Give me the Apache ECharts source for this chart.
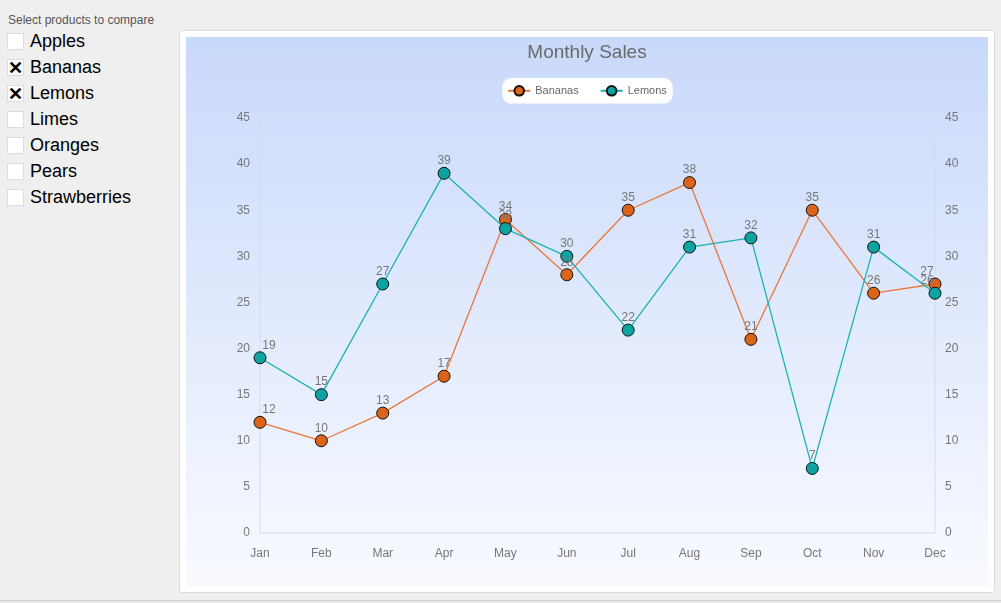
<!DOCTYPE html>
<html><head><meta charset="utf-8">
<script src="https://cdn.jsdelivr.net/npm/echarts@6/dist/echarts.min.js"></script>
<style>
html,body{margin:0;padding:0;background:#efefef;width:1001px;height:603px;overflow:hidden;font-family:"Liberation Sans",Arial,sans-serif;}
#side{position:absolute;left:0;top:0;width:175px;}
#side .hd{position:absolute;left:8px;top:13px;font-size:12px;color:#555;}
.row{position:absolute;left:7px;height:18px;}
.box{position:absolute;left:0;top:0;width:17px;height:17px;background:#fff;border:1px solid #ddd;box-sizing:border-box;font-size:18px;line-height:17px;text-align:center;font-weight:bold;color:#000;}
.lbl{position:absolute;left:23px;top:-2px;font-size:18px;color:#000;white-space:nowrap;}
#panel{position:absolute;left:179px;top:30px;width:816px;height:563px;background:#fff;border:1px solid #dcdcdc;border-radius:3px;box-sizing:border-box;}
#chart{position:absolute;left:186px;top:37px;width:802px;height:549px;}
#foot{position:absolute;left:0;top:600px;width:1001px;height:3px;border-top:1px solid #cfcfcf;background:#e8e8e8;}
</style></head>
<body>
<div id="side"><div class="hd">Select products to compare</div></div>
<div id="panel"></div>
<div id="chart"></div>
<div id="foot"></div>
<script>
const products = ["Apples","Bananas","Lemons","Limes","Oranges","Pears","Strawberries"];
const selected = ["Bananas","Lemons"];
const months = ["Jan","Feb","Mar","Apr","May","Jun","Jul","Aug","Sep","Oct","Nov","Dec"];
const bananas = [12,10,13,17,34,28,35,38,21,35,26,27];
const lemons = [19,15,27,39,33,30,22,31,32,7,31,26];
const yTicks = {min:0,max:45,interval:5};

const side = document.getElementById('side');
products.forEach((p,i)=>{
  const r = document.createElement('div');
  r.className='row'; r.style.top=(33+i*26)+'px';
  r.innerHTML='<div class="box">'+(selected.includes(p)?'&#x2715;':'')+'</div><div class="lbl">'+p+'</div>';
  side.appendChild(r);
});

// keep edge labels inside the plot (as the original renderer does)
function withEdgeLabels(arr){
  return arr.map((v,i)=>{
    if(i===0) return {value:v,label:{offset:[9,0]}};
    if(i===arr.length-1) return {value:v,label:{offset:[-8,0]}};
    return v;
  });
}

const chart = echarts.init(document.getElementById('chart'));
const labelStyle = {show:true,position:'top',distance:0,color:'#777',fontSize:12,fontFamily:'Liberation Sans'};
const yAxisBase = {type:'value',min:yTicks.min,max:yTicks.max,interval:yTicks.interval,
  axisLine:{show:false},axisTick:{show:false},splitLine:{show:false},
  axisLabel:{color:'#777',fontSize:12,fontFamily:'Liberation Sans',margin:10}};
chart.setOption({
  backgroundColor:{type:'linear',x:0,y:0,x2:0,y2:1,colorStops:[{offset:0,color:'#c9d9fb'},{offset:1,color:'#f8faff'}]},
  title:{text:'Monthly Sales',left:'center',top:1,textStyle:{color:'#6a6a6a',fontSize:19,fontWeight:'normal',fontFamily:'Liberation Sans'}},
  legend:{top:41,left:'center',backgroundColor:'#fff',borderRadius:9,padding:[7,6,7,5],itemGap:21,itemWidth:22,itemHeight:12,
    textStyle:{color:'#666',fontSize:11,fontFamily:'Liberation Sans'},data:['Bananas','Lemons']},
  grid:{left:74,right:53,top:81,bottom:53,show:true,borderColor:'#d3dbea',borderWidth:1,backgroundColor:'transparent'},
  xAxis:{type:'category',data:months,boundaryGap:false,axisLine:{show:false},axisTick:{show:false},
    axisLabel:{color:'#777',fontSize:12,fontFamily:'Liberation Sans',margin:15}},
  yAxis:[Object.assign({},yAxisBase,{position:'left'}),Object.assign({},yAxisBase,{position:'right'})],
  series:[
    {name:'Bananas',type:'line',data:withEdgeLabels(bananas),symbol:'circle',symbolSize:12,
      lineStyle:{color:'#e8773a',width:1.3},itemStyle:{color:'#db6419',borderColor:'#111',borderWidth:1},
      label:labelStyle,emphasis:{disabled:true}},
    {name:'Lemons',type:'line',data:withEdgeLabels(lemons),symbol:'circle',symbolSize:12,
      lineStyle:{color:'#1ab3b3',width:1.3},itemStyle:{color:'#0ea3a3',borderColor:'#111',borderWidth:1},
      label:labelStyle,emphasis:{disabled:true}}
  ]
});
</script>
</body></html>
